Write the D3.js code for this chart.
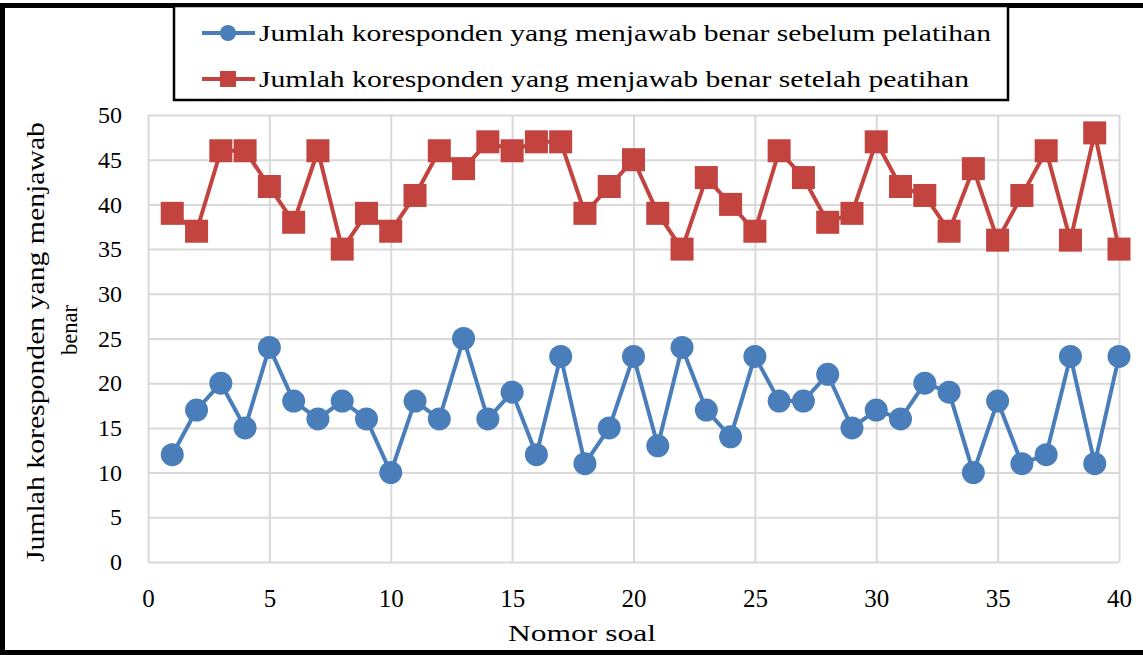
<!DOCTYPE html>
<html>
<head>
<meta charset="utf-8">
<script src="https://cdn.jsdelivr.net/npm/d3@7"></script>
<style>
  body { margin: 0; background: #fff; }
  svg { display: block; }
  text { font-family: "Liberation Serif", "Times New Roman", serif; fill: #000; }
</style>
</head>
<body>
<div id="chart"></div>
<script>
// data
const soal = d3.range(1, 41);
const sebelum = [12, 17, 20, 15, 24, 18, 16, 18, 16, 10, 18, 16, 25, 16, 19, 12, 23, 11, 15, 23,
                 13, 24, 17, 14, 23, 18, 18, 21, 15, 17, 16, 20, 19, 10, 18, 11, 12, 23, 11, 23];
const setelah = [39, 37, 46, 46, 42, 38, 46, 35, 39, 37, 41, 46, 44, 47, 46, 47, 47, 39, 42, 45,
                 39, 35, 43, 40, 37, 46, 43, 38, 39, 47, 42, 41, 37, 44, 36, 41, 46, 36, 48, 35];
const xTicks = [0, 5, 10, 15, 20, 25, 30, 35, 40];
const yTicks = [0, 5, 10, 15, 20, 25, 30, 35, 40, 45, 50];
const seriesNames = [
  'Jumlah koresponden yang menjawab benar sebelum pelatihan',
  'Jumlah koresponden yang menjawab benar setelah peatihan'
];
const xTitle = 'Nomor  soal';
const yTitle = ['Jumlah koresponden yang menjawab', 'benar'];

const W = 1143, H = 655;
const blue = '#4a7ebb', red = '#c3433f', grid = '#d9d9d9';
const serif = '"Liberation Serif", "Times New Roman", serif';

const svg = d3.select('#chart').append('svg')
    .attr('width', W).attr('height', H);

// outer frame (right side is cut off in the original)
svg.append('rect')
    .attr('x', 2.5).attr('y', 5.5).attr('width', W + 10).attr('height', H - 8)
    .attr('fill', 'none').attr('stroke', '#000').attr('stroke-width', 5);

const x = d3.scaleLinear().domain([0, 40]).range([148, 1119]);
const y = d3.scaleLinear().domain([0, 50]).range([562, 115]);

// grid
svg.append('g')
    .attr('transform', 'translate(0,562)')
    .call(d3.axisBottom(x).tickValues(xTicks).tickSize(-447).tickFormat(''))
    .call(g => g.select('.domain').remove())
    .selectAll('line').attr('stroke', grid).attr('stroke-width', 2);
svg.append('g')
    .attr('transform', 'translate(148,0)')
    .call(d3.axisLeft(y).tickValues(yTicks).tickSize(-971).tickFormat(''))
    .call(g => g.select('.domain').remove())
    .selectAll('line').attr('stroke', grid).attr('stroke-width', 2);

// tick labels
svg.append('g')
    .attr('transform', 'translate(0,562)')
    .call(d3.axisBottom(x).tickValues(xTicks).tickSize(0).tickPadding(27))
    .call(g => g.select('.domain').remove())
    .selectAll('text')
    .style('font-size', '25px').style('font-family', serif);
svg.append('g')
    .attr('transform', 'translate(122,0)')
    .call(d3.axisLeft(y).tickValues(yTicks).tickSize(0).tickPadding(0))
    .call(g => g.select('.domain').remove())
    .selectAll('text')
    .style('font-size', '24px').style('font-family', serif);

// axis titles
svg.append('text')
    .attr('x', 582).attr('y', 641)
    .attr('text-anchor', 'middle')
    .style('font-size', '24px')
    .attr('textLength', 148).attr('lengthAdjust', 'spacingAndGlyphs')
    .text(xTitle);
svg.append('text')
    .attr('transform', 'translate(44,342) rotate(-90)')
    .attr('text-anchor', 'middle')
    .style('font-size', '26px')
    .attr('textLength', 440).attr('lengthAdjust', 'spacingAndGlyphs')
    .text(yTitle[0]);
svg.append('text')
    .attr('transform', 'translate(77,330) rotate(-90)')
    .attr('text-anchor', 'middle')
    .style('font-size', '24px')
    .attr('textLength', 50).attr('lengthAdjust', 'spacingAndGlyphs')
    .text(yTitle[1]);

const line = d3.line().x((d, i) => x(soal[i])).y(d => y(d));

// series: sebelum (blue circles)
svg.append('path').datum(sebelum)
    .attr('d', line).attr('fill', 'none')
    .attr('stroke', blue).attr('stroke-width', 4).attr('stroke-linejoin', 'round');
svg.append('g').selectAll('circle').data(sebelum).enter().append('circle')
    .attr('cx', (d, i) => x(soal[i])).attr('cy', d => y(d))
    .attr('r', 11.5).attr('fill', blue);

// series: setelah (red squares)
svg.append('path').datum(setelah)
    .attr('d', line).attr('fill', 'none')
    .attr('stroke', red).attr('stroke-width', 4).attr('stroke-linejoin', 'round');
svg.append('g').selectAll('rect').data(setelah).enter().append('rect')
    .attr('x', (d, i) => x(soal[i]) - 11.5).attr('y', d => y(d) - 11.5)
    .attr('width', 23).attr('height', 23).attr('fill', red);

// legend
const legend = svg.append('g');
legend.append('rect')
    .attr('x', 174).attr('y', 6).attr('width', 834).attr('height', 94)
    .attr('fill', '#fff').attr('stroke', '#000').attr('stroke-width', 2.5);
const rows = [
  { name: seriesNames[0], color: blue, shape: 'circle', y: 33, len: 732 },
  { name: seriesNames[1], color: red, shape: 'square', y: 79, len: 710 }
];
rows.forEach(r => {
  legend.append('line')
      .attr('x1', 202).attr('x2', 255).attr('y1', r.y).attr('y2', r.y)
      .attr('stroke', r.color).attr('stroke-width', 4);
  if (r.shape === 'circle') {
    legend.append('circle').attr('cx', 228).attr('cy', r.y).attr('r', 8).attr('fill', r.color);
  } else {
    legend.append('rect').attr('x', 220).attr('y', r.y - 8)
        .attr('width', 16).attr('height', 16).attr('fill', r.color);
  }
  legend.append('text')
      .attr('x', 259).attr('y', r.y + 8)
      .style('font-size', '24px')
      .attr('textLength', r.len).attr('lengthAdjust', 'spacingAndGlyphs')
      .text(r.name);
});
</script>
</body>
</html>
